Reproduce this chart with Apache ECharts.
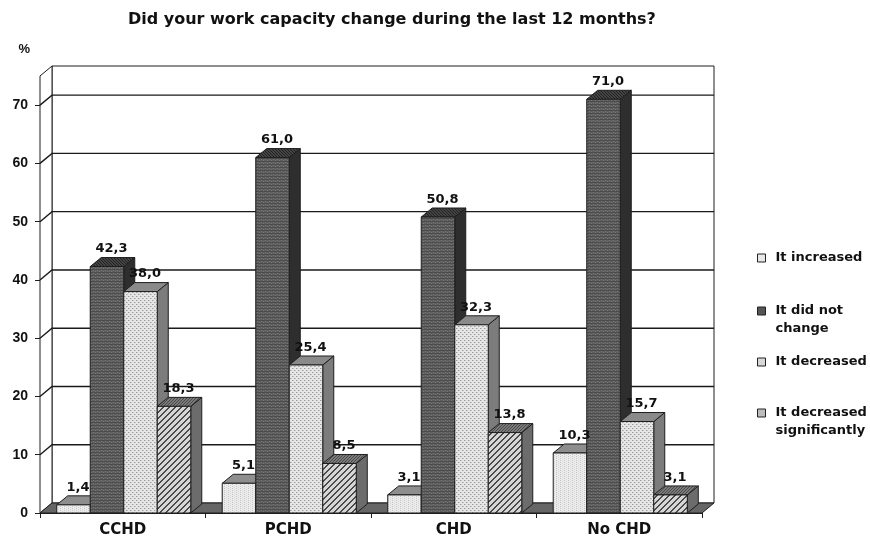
<!DOCTYPE html>
<html>
<head>
<meta charset="utf-8">
<title>Work capacity change</title>
<script src="https://cdn.jsdelivr.net/npm/echarts@6/dist/echarts.min.js"></script>
<style>
  html, body { margin: 0; padding: 0; background: #fff; }
  #chart { width: 870px; height: 540px; }
</style>
</head>
<body>
<div id="chart"></div>
<script>
// ---- data ----
const categories = ['CCHD', 'PCHD', 'CHD', 'No CHD'];
const seriesNames = ['It increased', 'It did not change', 'It decreased', 'It decreased significantly'];
const increased = [1.4, 5.1, 3.1, 10.3];
const notChanged = [42.3, 61.0, 50.8, 71.0];
const decreased = [38.0, 25.4, 32.3, 15.7];
const decreasedSignificantly = [18.3, 8.5, 13.8, 3.1];
const yTicks = [0, 10, 20, 30, 40, 50, 60, 70];
const yMax = 75;

const FONT = "'Liberation Sans', Arial, sans-serif";
const WIDE_FONT = "'DejaVu Sans', 'Liberation Sans', sans-serif";

// ---- fill textures ----
function makePattern(w, h, draw) {
  const c = document.createElement('canvas');
  c.width = w; c.height = h;
  const g = c.getContext('2d');
  draw(g);
  return { image: c, repeat: 'repeat' };
}
function px(g, color, pts) {
  g.fillStyle = color;
  pts.forEach(p => g.fillRect(p[0], p[1], 1, 1));
}
const texIncreased = makePattern(4, 4, g => {
  g.fillStyle = '#ececec'; g.fillRect(0, 0, 4, 4);
  px(g, '#c4c4c4', [[0, 0], [0, 2]]);
  px(g, '#d6d6d6', [[2, 1], [2, 3]]);
});
const texNotChanged = makePattern(4, 3, g => {
  g.fillStyle = '#5e5e5e'; g.fillRect(0, 0, 4, 3);
  g.fillStyle = '#4c4c4c'; g.fillRect(0, 2, 4, 1);
  px(g, '#767676', [[1, 0], [3, 1]]);
});
const texDecreased = makePattern(4, 4, g => {
  g.fillStyle = '#e6e6e6'; g.fillRect(0, 0, 4, 4);
  px(g, '#9c9c9c', [[0, 0], [2, 2]]);
  px(g, '#c2c2c2', [[1, 0], [3, 2]]);
});
const texDecreasedSig = makePattern(6, 6, g => {
  g.fillStyle = '#d6d6d6'; g.fillRect(0, 0, 6, 6);
  g.fillStyle = '#4a4a4a';
  for (let i = 0; i < 6; i++) {
    g.fillRect((i + 0) % 6, 5 - i, 1, 1);
    g.fillRect((i + 1) % 6, 5 - i, 1, 1);
  }
});
const texTopDark = makePattern(3, 3, g => {
  g.fillStyle = '#444'; g.fillRect(0, 0, 3, 3);
  px(g, '#222', [[0, 0], [1, 1], [2, 2]]);
});
const texTopHatch = makePattern(3, 3, g => {
  g.fillStyle = '#7a7a7a'; g.fillRect(0, 0, 3, 3);
  px(g, '#4a4a4a', [[0, 2], [1, 1], [2, 0]]);
});

// per-series face styles: front, top, side
const faces = [
  { front: texIncreased, top: '#8e8e8e', side: '#9a9a9a', legend: '#e8e8e8' },
  { front: texNotChanged, top: texTopDark, side: '#2e2e2e', legend: '#555555' },
  { front: texDecreased, top: '#8a8a8a', side: '#7c7c7c', legend: '#d8d8d8' },
  { front: texDecreasedSig, top: texTopHatch, side: '#6c6c6c', legend: '#bcbcbc' }
];
const seriesValues = [increased, notChanged, decreased, decreasedSignificantly];

// depth offsets of the 3D look
const WALL_DX = 12, WALL_DY = 10;
const BAR_DX = 11, BAR_DY = 9;
const EDGE = '#1e1e1e';

// back wall, side wall, floor and gridlines
function renderWalls(params, api) {
  const cs = params.coordSys;
  const xL = cs.x, xR = cs.x + cs.width;
  const y0 = api.coord([0, 0])[1];
  const yTop = api.coord([0, yMax])[1];
  const children = [];
  // back wall
  children.push({
    type: 'rect',
    shape: { x: xL + WALL_DX, y: yTop - WALL_DY, width: cs.width, height: y0 - yTop },
    style: { fill: '#fff', stroke: EDGE, lineWidth: 1 }
  });
  // side wall
  children.push({
    type: 'polygon',
    shape: { points: [[xL, y0], [xL + WALL_DX, y0 - WALL_DY], [xL + WALL_DX, yTop - WALL_DY], [xL, yTop]] },
    style: { fill: '#fff', stroke: EDGE, lineWidth: 1 }
  });
  // gridlines
  yTicks.forEach(v => {
    if (v === 0) return;
    const y = api.coord([0, v])[1];
    children.push({
      type: 'polyline',
      shape: { points: [[xL, y], [xL + WALL_DX, y - WALL_DY], [xR + WALL_DX, y - WALL_DY]] },
      style: { stroke: '#1a1a1a', lineWidth: 1.4, fill: null }
    });
  });
  // floor
  children.push({
    type: 'polygon',
    shape: { points: [[xL, y0], [xR, y0], [xR + WALL_DX, y0 - WALL_DY], [xL + WALL_DX, y0 - WALL_DY]] },
    style: { fill: '#666666', stroke: EDGE, lineWidth: 1 }
  });
  return { type: 'group', children: children };
}

function barRenderer(k) {
  return function (params, api) {
    const cat = api.value(0);
    const val = api.value(1);
    const base = api.coord([cat, 0]);
    const top = api.coord([cat, val]);
    const band = api.size([1, 0])[0];
    const bw = band * 0.2025;
    const x0 = base[0] - 2 * bw + k * bw + 1;
    const x1 = x0 + bw;
    const yb = base[1], yt = top[1];
    const f = faces[k];
    return {
      type: 'group',
      children: [
        {
          type: 'polygon',
          shape: { points: [[x1, yt], [x1 + BAR_DX, yt - BAR_DY], [x1 + BAR_DX, yb - BAR_DY], [x1, yb]] },
          style: { fill: f.side, stroke: EDGE, lineWidth: 1 }
        },
        {
          type: 'polygon',
          shape: { points: [[x0, yt], [x1, yt], [x1 + BAR_DX, yt - BAR_DY], [x0 + BAR_DX, yt - BAR_DY]] },
          style: { fill: f.top, stroke: EDGE, lineWidth: 1 }
        },
        {
          type: 'rect',
          shape: { x: x0, y: yt, width: bw, height: yb - yt },
          style: { fill: f.front, stroke: EDGE, lineWidth: 1 }
        },
        {
          type: 'text',
          z2: 100,
          style: {
            text: val.toFixed(1).replace('.', ','),
            x: x0 + bw / 2 + BAR_DX / 2 - 1,
            y: yt - BAR_DY - 2,
            align: 'center',
            verticalAlign: 'bottom',
            fill: '#111',
            font: 'bold 13px ' + WIDE_FONT
          }
        }
      ]
    };
  };
}

// legend rows: a blank first line keeps the marker beside the first text line
const LEGEND_LH = 18;
const legendTops = [249, 311 - 1.5 * LEGEND_LH, 353, 413 - 1.5 * LEGEND_LH];
const legendLabel = {
  'It did not change': ' \nIt did not\nchange',
  'It decreased significantly': ' \nIt decreased\nsignificantly'
};

const option = {
  backgroundColor: '#fff',
  animation: false,
  title: {
    text: 'Did your work capacity change during the last 12 months?',
    left: 123,
    top: 7,
    textStyle: { fontFamily: WIDE_FONT, fontWeight: 'bold', fontSize: 16, color: '#111' }
  },
  legend: seriesNames.map((name, i) => ({
    data: [name],
    orient: 'vertical',
    left: 757,
    top: legendTops[i],
    padding: 0,
    itemWidth: 8,
    itemHeight: 8,
    icon: 'rect',
    selectedMode: false,
    itemStyle: { borderColor: '#222', borderWidth: 1 },
    formatter: n => legendLabel[n] || n,
    textStyle: {
      fontFamily: WIDE_FONT, fontWeight: 'bold', fontSize: 13, color: '#111',
      lineHeight: LEGEND_LH,
      padding: [0, 0, 0, 5]
    }
  })),
  grid: { left: 40, right: 168, top: 76, bottom: 27 },
  xAxis: {
    type: 'category',
    data: categories,
    axisLine: { show: true, lineStyle: { color: '#1e1e1e', width: 1 } },
    axisTick: { show: true, length: 5, lineStyle: { color: '#1e1e1e' } },
    axisLabel: { margin: 10, fontFamily: WIDE_FONT, fontWeight: 'bold', fontSize: 15, color: '#111' },
    z: 5
  },
  yAxis: {
    type: 'value',
    min: 0,
    max: yMax,
    interval: 10,
    name: '%',
    nameLocation: 'end',
    nameGap: 20,
    nameTextStyle: { fontFamily: FONT, fontWeight: 'bold', fontSize: 13, color: '#111', align: 'right', padding: [0, 10, 0, 0] },
    axisLine: { show: true, lineStyle: { color: '#1e1e1e', width: 1 } },
    axisTick: { show: true, length: 5, customValues: yTicks, lineStyle: { color: '#1e1e1e' } },
    axisLabel: { margin: 12, customValues: yTicks, fontFamily: FONT, fontWeight: 'bold', fontSize: 14, color: '#111' },
    splitLine: { show: false }
  },
  series: [
    {
      type: 'custom',
      name: 'walls',
      silent: true,
      z: 1,
      data: [[0, 0]],
      renderItem: renderWalls
    }
  ].concat(seriesNames.map((name, k) => ({
    type: 'custom',
    name: name,
    z: 2,
    itemStyle: { color: faces[k].legend },
    data: seriesValues[k].map((v, i) => [i, v]),
    encode: { x: 0, y: 1 },
    renderItem: barRenderer(k)
  })))
};

const chart = echarts.init(document.getElementById('chart'), null, { renderer: 'canvas' });
chart.setOption(option);
</script>
</body>
</html>
